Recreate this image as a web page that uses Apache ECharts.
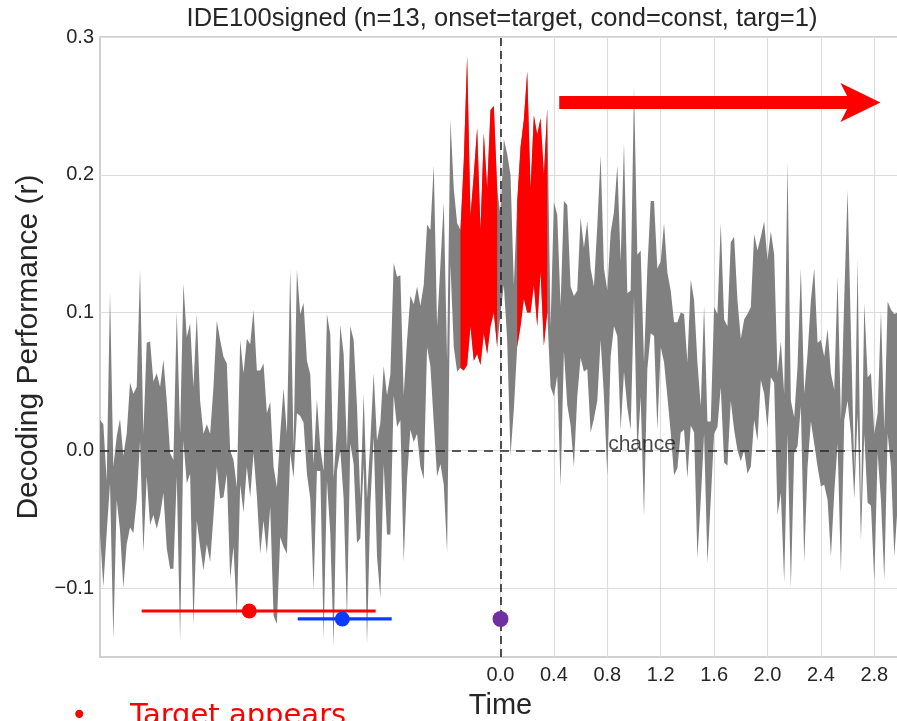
<!DOCTYPE html>
<html>
<head>
<meta charset="utf-8">
<script src="https://cdn.jsdelivr.net/npm/echarts@6/dist/echarts.min.js"></script>
<style>
  html, body { margin: 0; padding: 0; background: #ffffff; }
  #chart { width: 897px; height: 721px; }
</style>
</head>
<body>
<div id="chart"></div>
<script>
// Sampling grid of the decoding time course (seconds relative to target onset)
const T_START = -3.0;
const T_STEP = 0.025;

// Upper edge of the decoding-performance band (r), one value per sample
const upperBound = [
  0.022, 0.019, -0.022, 0.115, -0.012, 0.010, 0.023, -0.004, 0.012, 0.049,
  0.041, 0.046, 0.131, 0.012, 0.078, 0.079, 0.050, 0.056, 0.046, 0.066,
  0.036, -0.002, -0.007, 0.101, 0.012, 0.121, 0.082, 0.092, 0.046, 0.099,
  0.036, 0.012, 0.019, 0.012, 0.046, 0.094, 0.080, 0.068, 0.063, 0.000,
  -0.007, -0.027, 0.080, 0.056, 0.081, 0.077, 0.102, 0.058, 0.058, 0.063,
  0.027, 0.035, -0.012, -0.027, 0.012, 0.045, 0.012, 0.132, 0.002, 0.131,
  0.099, 0.107, 0.065, 0.055, -0.010, 0.037, 0.002, -0.015, 0.099, 0.084,
  -0.020, 0.015, 0.091, 0.070, 0.000, 0.090, 0.080, 0.032, -0.035, 0.041,
  -0.035, 0.007, 0.056, 0.007, 0.020, 0.061, 0.040, 0.055, 0.136, 0.126,
  0.127, 0.040, 0.080, 0.112, 0.106, 0.119, 0.105, 0.120, 0.164, 0.160,
  0.207, 0.090, 0.135, 0.180, 0.065, 0.240, 0.190, 0.165, 0.160, 0.210,
  0.286, 0.170, 0.200, 0.234, 0.160, 0.230, 0.190, 0.247, 0.250, 0.190,
  0.170, 0.226, 0.215, 0.200, 0.120, 0.180, 0.220, 0.240, 0.275, 0.190,
  0.243, 0.229, 0.241, 0.200, 0.248, 0.090, 0.180, 0.171, 0.105, 0.181,
  0.178, 0.119, 0.112, 0.116, 0.169, 0.147, 0.166, 0.132, 0.119, 0.163,
  0.214, 0.132, 0.116, 0.158, 0.173, 0.207, 0.137, 0.223, 0.114, 0.116,
  0.264, 0.142, 0.145, 0.064, 0.132, 0.181, 0.181, 0.132, 0.137, 0.165,
  0.129, 0.116, 0.093, 0.093, 0.100, 0.099, 0.064, 0.124, 0.109, 0.064,
  0.032, 0.105, 0.021, 0.021, 0.104, 0.099, 0.165, 0.095, 0.090, 0.151,
  0.155, 0.109, 0.081, 0.095, 0.099, 0.104, 0.157, 0.145, 0.155, 0.166,
  0.138, 0.159, 0.142, 0.056, 0.079, 0.041, 0.209, 0.036, 0.024, 0.061,
  0.132, 0.041, 0.070, 0.109, 0.132, 0.078, 0.080, 0.068, 0.088, 0.056,
  0.044, 0.126, 0.022, 0.111, 0.189, 0.085, -0.015, 0.139, -0.045, 0.107,
  0.053, 0.056, 0.012, 0.027, 0.101, 0.015, 0.108, 0.102, 0.099, 0.100
];

// Lower edge of the band (r)
const lowerBound = [
  -0.060, -0.099, -0.060, -0.024, -0.137, -0.036, -0.058, -0.100, -0.068, -0.056,
  -0.060, -0.036, 0.007, -0.074, -0.019, -0.054, -0.047, -0.057, -0.047, -0.031,
  -0.071, -0.086, -0.086, -0.019, -0.138, 0.007, -0.024, -0.017, -0.127, -0.051,
  -0.070, -0.087, -0.068, -0.081, -0.048, -0.012, -0.035, -0.034, -0.017, -0.093,
  -0.070, -0.121, -0.025, -0.045, -0.012, -0.034, -0.002, -0.033, -0.075, -0.051,
  -0.075, -0.041, -0.120, -0.126, -0.063, -0.070, -0.075, -0.002, -0.020, 0.027,
  0.025, 0.020, -0.017, -0.035, -0.101, -0.015, -0.015, -0.137, -0.022, -0.060,
  -0.142, -0.015, 0.000, -0.035, -0.122, 0.005, -0.010, -0.067, -0.064, -0.010,
  -0.141, -0.040, 0.010, -0.077, -0.107, -0.010, -0.061, -0.061, 0.040, 0.017,
  0.022, -0.081, -0.020, 0.015, 0.006, 0.012, -0.012, -0.021, 0.075, 0.061,
  0.020, -0.019, -0.010, -0.025, -0.074, 0.135, 0.075, 0.057, 0.060, 0.058,
  0.062, 0.090, 0.065, 0.070, 0.062, 0.085, 0.070, 0.090, 0.100, 0.075,
  0.100, 0.120, 0.080, -0.004, 0.030, 0.075, 0.090, 0.110, 0.100, 0.100,
  0.120, 0.090, 0.130, 0.076, 0.100, 0.046, 0.039, 0.054, -0.026, 0.072,
  0.033, 0.018, -0.012, 0.039, 0.067, 0.057, 0.059, 0.013, 0.023, 0.036,
  0.080, 0.039, -0.018, 0.068, 0.090, 0.083, 0.015, 0.057, 0.031, 0.015,
  0.111, -0.003, 0.039, -0.048, 0.059, 0.085, 0.083, 0.015, 0.075, 0.064,
  0.039, 0.013, -0.018, -0.013, 0.013, 0.015, -0.020, 0.018, 0.013, -0.078,
  -0.036, 0.012, -0.082, -0.036, 0.012, 0.017, 0.046, -0.009, -0.011, 0.036,
  0.015, 0.000, -0.008, 0.000, -0.017, -0.012, 0.022, 0.007, 0.051, 0.041,
  0.016, 0.053, 0.049, -0.047, -0.031, -0.096, 0.012, -0.100, -0.002, 0.003,
  0.032, -0.081, -0.012, 0.021, 0.005, -0.012, -0.026, -0.025, -0.036, -0.077,
  -0.031, 0.005, -0.089, 0.022, 0.036, 0.012, -0.035, 0.027, -0.065, 0.012,
  -0.038, -0.040, -0.095, -0.002, -0.036, -0.094, 0.012, -0.012, -0.077, -0.040
];

// Time windows where decoding is significant (drawn in red)
const sigWindows = [[-0.3, -0.025], [0.125, 0.35]];

// Axis ticks and ranges
const xTickValues = [0.0, 0.4, 0.8, 1.2, 1.6, 2.0, 2.4, 2.8];
const yTickValues = [-0.1, 0.0, 0.1, 0.2, 0.3];
const xRange = [-3.0, 3.0];
const yRange = [-0.15, 0.3];

// Latency markers: mean with horizontal spread
const markerRed = { mean: -1.882, lo: -2.688, hi: -0.935, level: -0.1166 };
const markerBlue = { mean: -1.185, lo: -1.519, hi: -0.815, level: -0.1224 };
const markerOnset = { time: 0.0, level: -0.1224 };

// Arrow over the post-target period (start time, tip time), and the chance label position
const arrowSpan = [0.44, 2.846];
const arrowLevel = 0.2525;
const chanceLabelTime = 1.06;

const titleText = 'IDE100signed (n=13, onset=target, cond=const, targ=1)';

const GRAY = '#808080';
const RED = '#ff0000';
const BLUE = '#0a3cff';
const PURPLE = '#7030a0';
const INK = '#262626';
const FONT = "'Liberation Sans', Arial, Helvetica, sans-serif";

const times = upperBound.map((_, i) => +(T_START + i * T_STEP).toFixed(3));
const allIdx = times.map((_, i) => i);

// Contiguous sample runs: the whole course (gray) and each significant window (red)
const bands = [{ idx: allIdx, color: GRAY }].concat(
  sigWindows.map(w => ({
    idx: allIdx.filter(i => times[i] >= w[0] - 1e-9 && times[i] <= w[1] + 1e-9),
    color: RED
  }))
);

function renderBand(params, api) {
  const band = bands[params.dataIndex];
  const top = band.idx.map(i => api.coord([times[i], upperBound[i]]));
  const bottom = band.idx.slice().reverse().map(i => api.coord([times[i], lowerBound[i]]));
  const cs = params.coordSys;
  return {
    type: 'group',
    clipPath: { type: 'rect', shape: { x: cs.x, y: cs.y, width: cs.width, height: cs.height } },
    children: [{
      type: 'polygon',
      shape: { points: top.concat(bottom) },
      style: { fill: band.color, stroke: null }
    }]
  };
}

function renderArrow(params, api) {
  const start = api.coord([arrowSpan[0], arrowLevel]);
  const tip = api.coord([arrowSpan[1], arrowLevel]);
  const headLen = 40, headHalf = 19.5, notch = 30, shaftHalf = 6.5;
  return {
    type: 'group',
    children: [
      {
        type: 'rect',
        shape: { x: start[0], y: tip[1] - shaftHalf, width: tip[0] - notch - start[0] + 2, height: shaftHalf * 2 },
        style: { fill: RED }
      },
      {
        type: 'polygon',
        shape: { points: [
          [tip[0], tip[1]],
          [tip[0] - headLen, tip[1] - headHalf],
          [tip[0] - notch, tip[1]],
          [tip[0] - headLen, tip[1] + headHalf]
        ] },
        style: { fill: RED }
      }
    ]
  };
}

const series = [];

series.push({
  name: 'band', type: 'custom', silent: true, z: 2,
  renderItem: renderBand,
  data: bands.map((b, k) => [k]),
  encode: { x: -1, y: -1 }
});

// Dashed reference lines: chance level and target onset
series.push({
  name: 'refs', type: 'line', data: [], silent: true, z: 5,
  markLine: {
    silent: true, symbol: ['none', 'none'], label: { show: false }, animation: false,
    data: [
      { yAxis: 0, lineStyle: { color: INK, width: 1.6, type: [9, 7] } },
      { xAxis: 0, lineStyle: { color: INK, width: 1.6, type: [8, 5] } }
    ]
  }
});

series.push({
  name: 'arrow', type: 'custom', silent: true, z: 6,
  renderItem: renderArrow,
  data: [[0]],
  encode: { x: -1, y: -1 }
});

// Chance label
series.push({
  name: 'chance', type: 'scatter', symbolSize: 0, silent: true, z: 6,
  data: [[chanceLabelTime, 0]],
  label: {
    show: true, formatter: 'chance', position: 'top', distance: 0, offset: [0, 4],
    color: '#1a1a1a', fontSize: 21, fontFamily: FONT
  }
});

// Latency markers
[[markerRed, RED], [markerBlue, BLUE]].forEach(([m, c]) => {
  series.push({
    type: 'line', silent: true, z: 7, symbol: 'none',
    data: [[m.lo, m.level], [m.hi, m.level]],
    lineStyle: { color: c, width: 3.2 }
  });
  series.push({
    type: 'scatter', silent: true, z: 8, symbolSize: 15,
    data: [[m.mean, m.level]], itemStyle: { color: c, opacity: 1 }
  });
});
series.push({
  type: 'scatter', silent: true, z: 8, symbolSize: 16,
  data: [[markerOnset.time, markerOnset.level]], itemStyle: { color: PURPLE, opacity: 1 }
});

const fmt = v => (v < 0 ? '\u2212' + Math.abs(v).toFixed(1) : v.toFixed(1));

const chart = echarts.init(document.getElementById('chart'), null, { renderer: 'canvas' });
chart.setOption({
  animation: false,
  backgroundColor: '#ffffff',
  grid: {
    left: 100, right: -4, top: 37, bottom: 64,
    outerBoundsMode: 'none', containLabel: false,
    show: true, borderColor: '#d0d0d0', borderWidth: 2, backgroundColor: 'transparent'
  },
  xAxis: {
    type: 'value', min: xRange[0], max: xRange[1],
    name: 'Time', nameLocation: 'middle', nameGap: 34,
    nameTextStyle: { color: INK, fontSize: 29, fontFamily: FONT },
    axisLine: { show: false },
    axisTick: { show: false, customValues: xTickValues },
    axisLabel: {
      customValues: xTickValues, formatter: fmt, margin: 8,
      color: INK, fontSize: 20, fontFamily: FONT
    },
    splitLine: { show: true, lineStyle: { color: '#dddddd', width: 1.2 } }
  },
  yAxis: {
    type: 'value', min: yRange[0], max: yRange[1],
    name: 'Decoding Performance (r)', nameLocation: 'middle', nameGap: 56,
    nameTextStyle: { color: INK, fontSize: 30, fontFamily: FONT },
    axisLine: { show: false },
    axisTick: { show: false, customValues: yTickValues },
    axisLabel: {
      customValues: yTickValues, formatter: fmt, margin: 6,
      color: INK, fontSize: 20, fontFamily: FONT
    },
    splitLine: { show: true, lineStyle: { color: '#dddddd', width: 1.2 } }
  },
  graphic: [
    {
      type: 'text', x: 502, y: 6, silent: true,
      style: { text: titleText, fill: INK, font: '25.5px ' + FONT, textAlign: 'center', textVerticalAlign: 'top' }
    },
    {
      type: 'text', x: 71, y: 703, silent: true,
      style: { text: '\u2022', fill: RED, font: '28px "DejaVu Sans", sans-serif' }
    },
    {
      type: 'text', x: 130, y: 702, silent: true,
      style: { text: 'Target appears', fill: RED, font: '29px "DejaVu Sans", sans-serif' }
    }
  ],
  series: series
});
</script>
</body>
</html>
